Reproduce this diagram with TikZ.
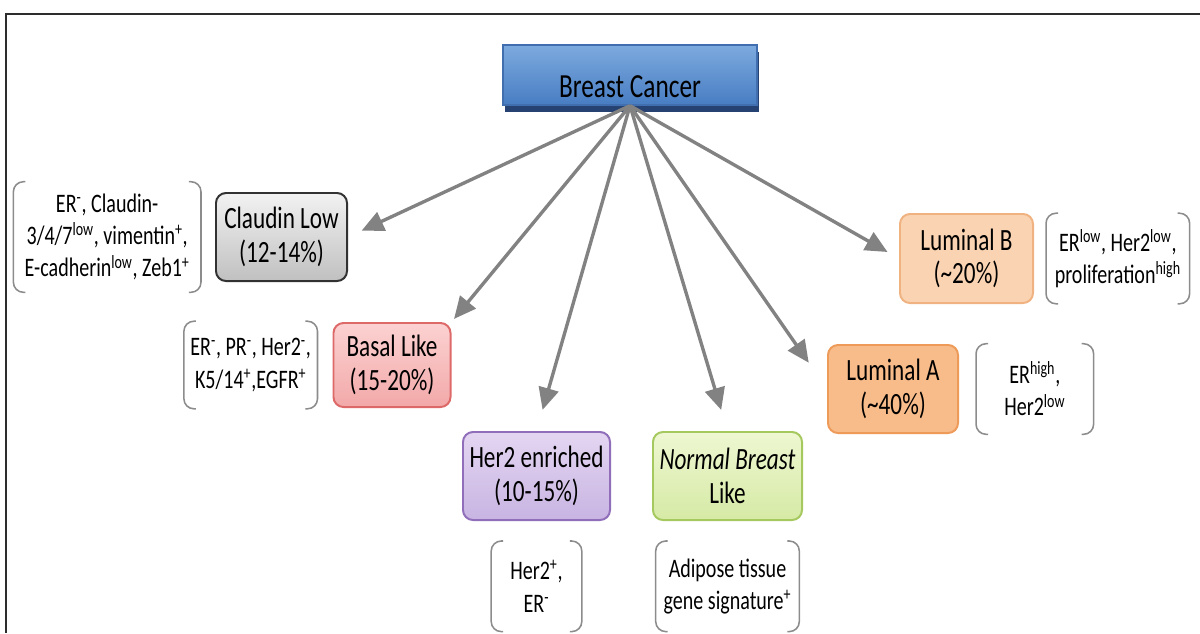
\documentclass[tikz,border=0pt]{standalone}
\usepackage{fontspec}
\setmainfont{Carlito}[FakeStretch=0.75]
\definecolor{arrowgray}{RGB}{130,130,130}
\definecolor{bracketgray}{RGB}{140,140,140}
\definecolor{framegray}{RGB}{45,45,45}
\definecolor{bctop}{RGB}{125,170,222}
\definecolor{bcbot}{RGB}{72,125,195}
\definecolor{bcline}{RGB}{65,110,175}
\definecolor{bcshadow}{RGB}{38,66,115}
\definecolor{cltop}{RGB}{242,242,242}
\definecolor{clbot}{RGB}{192,192,192}
\definecolor{clline}{RGB}{50,50,50}
\definecolor{batop}{RGB}{252,210,210}
\definecolor{babot}{RGB}{242,168,168}
\definecolor{baline}{RGB}{222,105,105}
\definecolor{hetop}{RGB}{228,214,242}
\definecolor{hebot}{RGB}{200,180,226}
\definecolor{heline}{RGB}{145,110,185}
\definecolor{notop}{RGB}{238,247,210}
\definecolor{nobot}{RGB}{214,234,165}
\definecolor{noline}{RGB}{165,200,95}
\definecolor{lbfill}{RGB}{250,212,178}
\definecolor{lbline}{RGB}{240,178,128}
\definecolor{lafill}{RGB}{248,188,138}
\definecolor{laline}{RGB}{238,155,90}
\usetikzlibrary{positioning,shapes,arrows.meta,calc,shadows}

\begin{document}
\begin{tikzpicture}[x=0.025cm,y=-0.025cm,
    box/.style={rectangle,draw,line width=1.4pt,rounded corners=0.25cm,minimum height=2.2cm,align=center,font=\fontsize{22}{24}\selectfont},
    note/.style={rectangle,align=center,inner sep=0pt,font=\fontsize{19}{23}\selectfont},
    bracket/.style={draw=bracketgray,line width=1.1pt,rounded corners=0.25cm},
    arrow/.style={-{Triangle[length=0.55cm,width=0.5cm]},line width=2.4pt,arrowgray}
]
    \useasboundingbox (0,0) rectangle (1200,633);
    \draw[framegray,line width=1.8pt] (1200,14) -- (6,14) -- (6,633);

    \node[rectangle,draw=bcline,line width=1pt,top color=bctop,bottom color=bcbot,
        minimum width=6.35cm,inner sep=0pt,text height=1.3cm,text depth=0.2cm,
        font=\fontsize{24}{26}\selectfont,
        drop shadow={shadow xshift=0.05cm,shadow yshift=-0.17cm,fill=bcshadow,opacity=1}] (bc) at (630,75) {Breast Cancer};

    \node[box,minimum width=3.275cm,top color=cltop,bottom color=clbot,draw=clline] (cl) at (281.5,237) {Claudin Low\\(12-14\%)};
    \node[note,minimum width=4.675cm,minimum height=2.75cm,left=0.35cm of cl] (clnote) {ER\textsuperscript{-}, Claudin-\\3/4/7\textsuperscript{low}, vimentin\textsuperscript{+},\\E-cadherin\textsuperscript{low}, Zeb1\textsuperscript{+}};

    \node[box,minimum width=2.925cm,minimum height=2.1cm,top color=batop,bottom color=babot,draw=baline] (ba) at (392,365) {Basal Like\\(15-20\%)};
    \node[note,minimum width=3.325cm,minimum height=2.175cm,left=0.375cm of ba] (banote) {ER\textsuperscript{-}, PR\textsuperscript{-}, Her2\textsuperscript{-},\\K5/14\textsuperscript{+},EGFR\textsuperscript{+}};

    \node[box,minimum width=3.675cm,top color=hetop,bottom color=hebot,draw=heline] (he) at (536.5,476) {Her2 enriched\\(10-15\%)};
    \node[note,minimum width=2.25cm,minimum height=2.25cm,below=0.5cm of he] (henote) {Her2\textsuperscript{+},\\ER\textsuperscript{-}};

    \node[box,minimum width=3.725cm,top color=notop,bottom color=nobot,draw=noline] (no) at (727.5,476) {\textit{Normal Breast}\\Like};
    \node[note,minimum width=3.575cm,minimum height=2.25cm,below=0.5cm of no] (nonote) {Adipose tissue\\gene signature\textsuperscript{+}};

    \node[box,minimum width=3.25cm,fill=lafill,draw=laline] (la) at (893,389) {Luminal A\\(\textasciitilde40\%)};
    \node[note,minimum width=2.925cm,minimum height=2.25cm,right=0.425cm of la] (lanote) {ER\textsuperscript{high},\\Her2\textsuperscript{low}};

    \node[box,minimum width=3.325cm,minimum height=2.225cm,fill=lbfill,draw=lbline] (lb) at (966.5,258.5) {Luminal B\\(\textasciitilde20\%)};
    \node[note,minimum width=3.575cm,minimum height=2.25cm,right=0.3cm of lb] (lbnote) {ER\textsuperscript{low}, Her2\textsuperscript{low},\\proliferation\textsuperscript{high}};

    % brackets round the marker lists
    \foreach \n in {clnote,banote,henote,nonote,lanote,lbnote}{
        \draw[bracket] ([xshift=0.3cm]\n.north west) -- (\n.north west) -- (\n.south west) -- ([xshift=0.3cm]\n.south west);
        \draw[bracket] ([xshift=-0.3cm]\n.north east) -- (\n.north east) -- (\n.south east) -- ([xshift=-0.3cm]\n.south east);
    }

    \draw[arrow,shorten >=0.375cm] (bc.south) -- (cl.east);
    \draw[arrow,shorten >=0.1cm] (bc.south) -- (ba.north east);
    \draw[arrow,shorten >=0.55cm] (bc.south) -- (he.north);
    \draw[arrow,shorten >=0.55cm] (bc.south) -- (no.north);
    \draw[arrow,shorten >=0.8cm] (bc.south) -- (la.west);
    \draw[arrow,shorten >=0.33cm] (bc.south) -- (lb.west);
\end{tikzpicture}
\end{document}
